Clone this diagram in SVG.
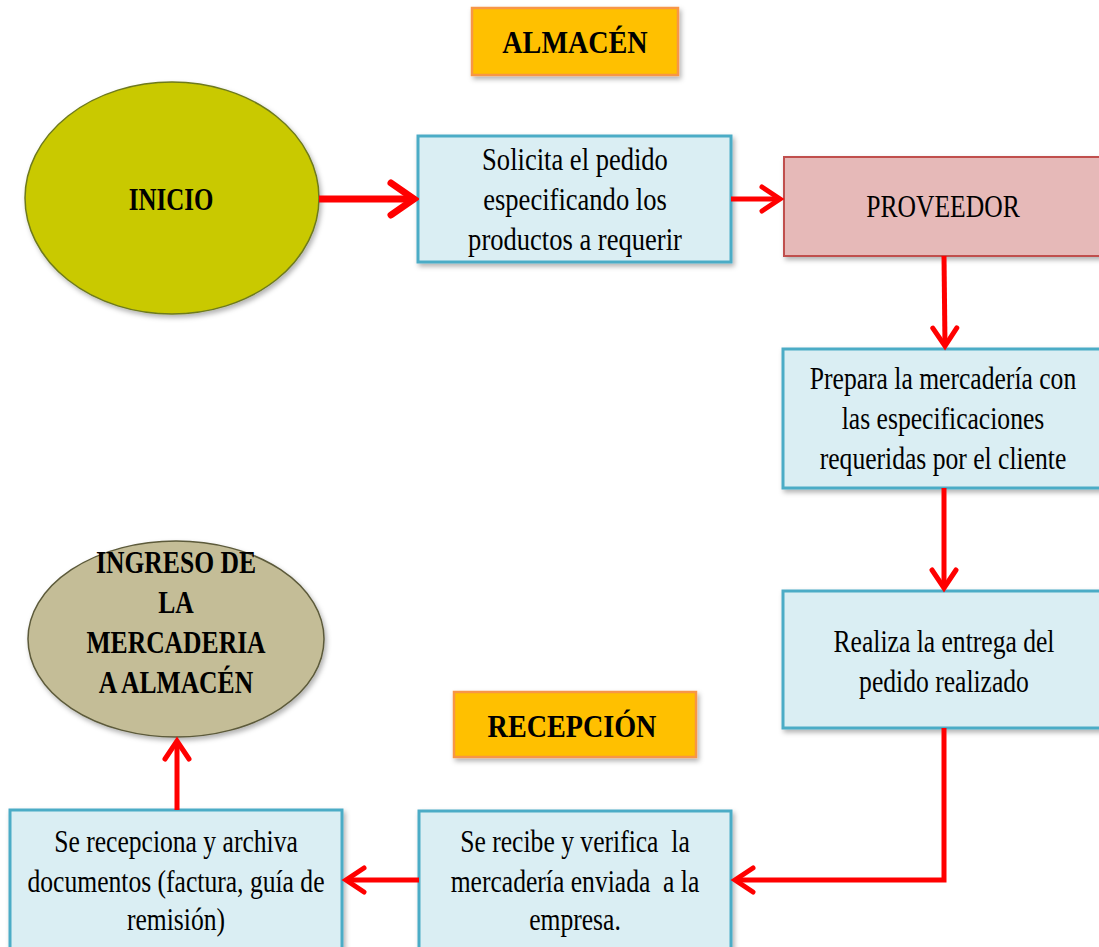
<svg xmlns="http://www.w3.org/2000/svg" width="1099" height="947" viewBox="0 0 1099 947">
<defs>
<filter id="sh" x="-10%" y="-10%" width="130%" height="130%">
<feDropShadow dx="2" dy="3" stdDeviation="2.5" flood-color="#000" flood-opacity="0.3"/>
</filter>
<marker id="ah" markerUnits="userSpaceOnUse" markerWidth="30" markerHeight="30" viewBox="-24 -15 28 30" refX="0" refY="0" orient="auto">
<path d="M-18,-12 L0,0 L-18,12" fill="none" stroke="#FF0000" stroke-width="5" stroke-linecap="round" stroke-linejoin="miter"/>
</marker>
<marker id="ahb" markerUnits="userSpaceOnUse" markerWidth="36" markerHeight="40" viewBox="-30 -20 34 40" refX="0" refY="0" orient="auto">
<path d="M-23,-16 L0,0 L-23,16" fill="none" stroke="#FF0000" stroke-width="7" stroke-linecap="round"/>
</marker>
</defs>
<style>
.t{font-family:"Liberation Serif","Times New Roman",serif;font-size:32px;fill:#000;text-anchor:middle}
.b{font-weight:bold}
.pre{white-space:pre}
.box{fill:#DAEEF3;stroke:#4BACC6;stroke-width:3}
.tag{fill:#FFC000;stroke:#F79646;stroke-width:2.5}
.c{fill:none;stroke:#FF0000;stroke-width:5}
</style>
<rect width="1099" height="947" fill="#FFFFFF"/>

<g id="almacen">
<rect class="tag" x="472" y="8" width="206" height="67" filter="url(#sh)"/>
<text class="t b" transform="translate(575,53) scale(0.88,1)" x="0" y="0">ALMACÉN</text>
</g>

<g id="inicio">
<ellipse cx="172" cy="198" rx="147" ry="116" fill="#C9C900" stroke="#6E7A1E" stroke-width="1.5" filter="url(#sh)"/>
<text class="t b" transform="translate(171,210) scale(0.78,1)" x="0" y="0">INICIO</text>
</g>

<g id="solicita">
<rect class="box" x="418" y="136" width="313" height="126" filter="url(#sh)"/>
<g transform="translate(575,0) scale(0.83,1)">
<text class="t" x="0" y="170">Solicita el pedido</text>
<text class="t" x="0" y="210">especificando los</text>
<text class="t" x="0" y="250">productos a requerir</text>
</g>
</g>

<g id="proveedor">
<rect x="784" y="157" width="320" height="99" fill="#E6B9B8" stroke="#C0504D" stroke-width="2" filter="url(#sh)"/>
<text class="t" transform="translate(943,217) scale(0.8,1)" x="0" y="0">PROVEEDOR</text>
</g>

<g id="prepara">
<rect class="box" x="783" y="349" width="320" height="139" filter="url(#sh)"/>
<g transform="translate(943,0) scale(0.8,1)">
<text class="t" x="0" y="389">Prepara la mercadería con</text>
<text class="t" x="0" y="429">las especificaciones</text>
<text class="t" x="0" y="469">requeridas por el cliente</text>
</g>
</g>

<g id="realiza">
<rect class="box" x="783" y="591" width="320" height="137" filter="url(#sh)"/>
<g transform="translate(944,0) scale(0.8,1)">
<text class="t" x="0" y="652">Realiza la entrega del</text>
<text class="t" x="0" y="692">pedido realizado</text>
</g>
</g>

<g id="recepcion">
<rect class="tag" x="454" y="692" width="242" height="65" filter="url(#sh)"/>
<text class="t b" transform="translate(572,737) scale(0.88,1)" x="0" y="0">RECEPCIÓN</text>
</g>

<g id="recibe">
<rect class="box" x="419" y="811" width="312" height="145" filter="url(#sh)"/>
<g transform="translate(575,0) scale(0.8,1)">
<text class="t pre" x="0" y="852">Se recibe y verifica  la</text>
<text class="t pre" x="0" y="892">mercadería enviada  a la</text>
<text class="t" x="0" y="930">empresa.</text>
</g>
</g>

<g id="recepciona">
<rect class="box" x="10" y="810" width="332" height="146" filter="url(#sh)"/>
<g transform="translate(176,0) scale(0.8,1)">
<text class="t" x="0" y="852">Se recepciona y archiva</text>
<text class="t" x="0" y="892">documentos (factura, guía de</text>
<text class="t" x="0" y="930">remisión)</text>
</g>
</g>

<g id="ingreso">
<ellipse cx="176" cy="639" rx="148" ry="98" fill="#C4BD97" stroke="#5C5A3A" stroke-width="1.5" filter="url(#sh)"/>
<g transform="translate(176,0) scale(0.8,1)">
<text class="t b" x="0" y="573">INGRESO DE</text>
<text class="t b" x="0" y="613">LA</text>
<text class="t b" x="0" y="653">MERCADERIA</text>
<text class="t b" x="0" y="693">A ALMACÉN</text>
</g>
</g>

<g id="connectors">
<line x1="319" y1="199" x2="414" y2="199" stroke="#FF0000" stroke-width="7" marker-end="url(#ahb)"/>
<line class="c" x1="731" y1="199" x2="780" y2="199" marker-end="url(#ah)"/>
<line class="c" x1="944" y1="256" x2="945" y2="346" stroke-width="4" marker-end="url(#ah)"/>
<line class="c" x1="944" y1="488" x2="944" y2="588" stroke-width="4" marker-end="url(#ah)"/>
<polyline class="c" points="944,728 944,880 735,880" stroke-width="4" marker-end="url(#ah)"/>
<line class="c" x1="419" y1="880" x2="346" y2="880" marker-end="url(#ah)"/>
<line class="c" x1="177" y1="810" x2="177" y2="741" marker-end="url(#ah)"/>
</g>
</svg>
